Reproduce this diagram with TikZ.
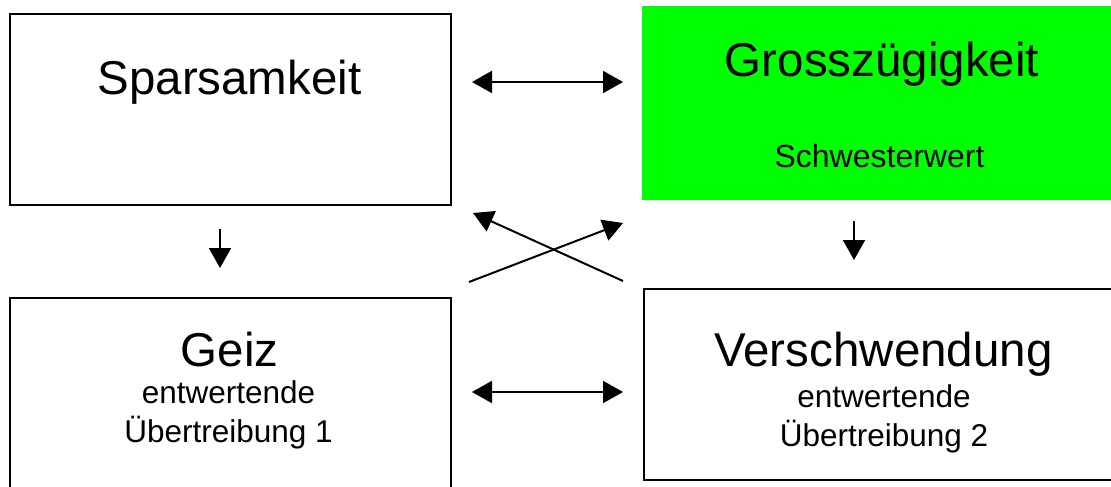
\documentclass[tikz,border=0pt]{standalone}
\usepackage{fontspec}
\setmainfont{Liberation Sans}
\usetikzlibrary{arrows.meta}
\definecolor{brightgreen}{RGB}{0,255,0}
\begin{document}
\begin{tikzpicture}[x=1pt,y=-1pt,
  box/.style={draw=black, line width=2pt, inner sep=0pt, outer sep=0pt},
  greenbox/.style={fill=brightgreen, draw=none, inner sep=0pt, outer sep=0pt},
  big/.style={anchor=base, inner sep=0pt, font=\fontsize{47.5}{55}\selectfont},
  small/.style={anchor=base, inner sep=0pt, font=\fontsize{31.5}{36}\selectfont},
  tip/.tip={Triangle[length=20pt,width=22pt]},
  arr/.style={line width=2pt, -tip},
  darr/.style={line width=2pt, tip-tip}]
\useasboundingbox (0,0) rectangle (1111,487);
\clip (0,0) rectangle (1111,487);
% boxes (right edges lie beyond the picture)
\node[box, minimum width=441pt, minimum height=191pt] (spar) at (230.5,109.5) {};
\node[greenbox, minimum width=520pt, minimum height=194pt] (gross) at (902,103) {};
\node[box, minimum width=441pt, minimum height=203pt] (geiz) at (230.5,399.5) {};
\node[box, minimum width=520pt, minimum height=191pt] (versch) at (904,384.5) {};
% texts
\node[big] (tspar) at (229.5,95) {Sparsamkeit};
\node[big] (tgross) at (882,77) {Grosszügigkeit};
\node[small, font=\fontsize{32}{36}\selectfont] (tschw) at (879.5,167) {Schwesterwert};
\node[big] (tgeiz) at (229.5,366) {Geiz};
\node[small] (tgeiz2) at (228.5,403) {entwertende};
\node[small] (tgeiz3) at (228.5,442) {Übertreibung 1};
\node[big] (tver) at (883.5,366) {Verschwendung};
\node[small] (tver2) at (884,407) {entwertende};
\node[small] (tver3) at (884,446) {Übertreibung 2};
% arrow end points
\coordinate (a1) at (472,82);  \coordinate (a2) at (623,82);
\coordinate (b1) at (472,392); \coordinate (b2) at (623,392);
\coordinate (c1) at (220,229); \coordinate (c2) at (220,268);
\coordinate (d1) at (854,221); \coordinate (d2) at (854,260);
\coordinate (e1) at (469,282); \coordinate (e2) at (623,223);
\coordinate (f1) at (623,281); \coordinate (f2) at (473,213);
\draw[darr] (a1) -- (a2);
\draw[darr] (b1) -- (b2);
\draw[arr] (c1) -- (c2);
\draw[arr] (d1) -- (d2);
\draw[arr] (e1) -- (e2);
\draw[arr] (f1) -- (f2);
\end{tikzpicture}
\end{document}
